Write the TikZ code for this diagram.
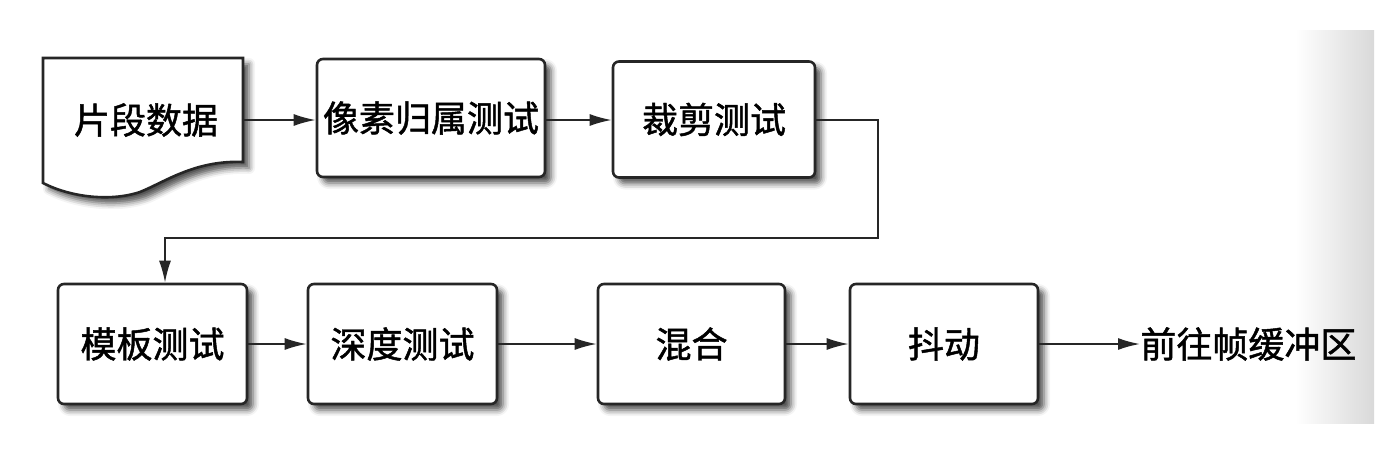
\documentclass[tikz,border=0pt]{standalone}
\usepackage{fontspec}
\newfontfamily\cjk{Noto Sans CJK SC}[FakeBold=1.3]
\usetikzlibrary{arrows.meta,shadows.blur}
\tikzset{
  shad/.style={blur shadow={shadow xshift=3pt,shadow yshift=-3pt,shadow blur radius=3pt,shadow opacity=70}},
  stagebox/.style={draw=black!85,line width=1.3pt,rounded corners=3pt,fill=white,shad,
     font=\cjk\fontsize{18pt}{20pt}\selectfont,inner sep=0pt},
  lbl/.style={font=\cjk\fontsize{18pt}{20pt}\selectfont,inner sep=0pt},
  flow/.style={line width=0.9pt,draw=black!85,-{Latex[length=11pt,width=6pt]}},
}
\begin{document}
\begin{tikzpicture}[x=0.5pt,y=0.5pt]
\useasboundingbox (0,0) rectangle (1388,452);
% scan shade at right edge
\shade[left color=white,right color=black!15,draw=none] (1295,29) rectangle (1374,422);
% document shape
\draw[line width=1.3pt,draw=black!85,fill=white,shad]
  (43,394) -- (243,394) -- (243,290)
  .. controls (195,292) and (165,270) .. (140,260)
  .. controls (110,250) and (70,255) .. (43,269) -- cycle;
\node[lbl] (frag) at (146,332) {片段数据};
\coordinate (fragE) at (243,332);
% row 1
\node[stagebox,minimum width=114pt,minimum height=59pt] (pix) at (431,334) {像素归属测试};
\node[stagebox,minimum width=101pt,minimum height=58pt] (clip) at (714,332.5) {裁剪测试};
% row 2
\node[stagebox,minimum width=94.5pt,minimum height=60pt] (stencil) at (152.5,108) {模板测试};
\node[stagebox,minimum width=94.5pt,minimum height=60pt] (depth) at (402.5,108) {深度测试};
\node[stagebox,minimum width=93.5pt,minimum height=60pt] (blend) at (691.5,108) {混合};
\node[stagebox,minimum width=94pt,minimum height=60pt] (dither) at (944,108) {抖动};
\node[lbl,anchor=west] (fb) at (1140,108) {前往帧缓冲区};
% connectors
\draw[flow] (fragE) -- (pix.west |- fragE);
\draw[flow] (pix.east |- fragE) -- (clip.west |- fragE);
\coordinate (r1) at (878,332);
\coordinate (r2) at (878,214);
\coordinate (bend) at (165,214);
\draw[flow] (clip.east |- r1) -- (r1) -- (r2) -- (bend) -- (bend |- stencil.north);
\draw[flow] (stencil.east) -- (depth.west);
\draw[flow] (depth.east) -- (blend.west);
\draw[flow] (blend.east) -- (dither.west);
\draw[flow] (dither.east) -- (fb.west);
\end{tikzpicture}
\end{document}
